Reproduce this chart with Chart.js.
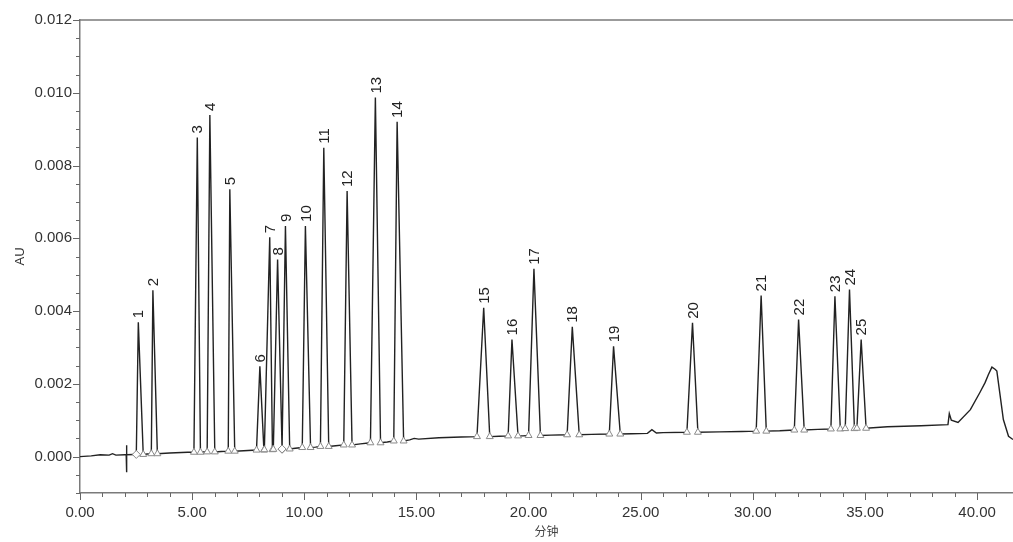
<!DOCTYPE html>
<html lang="zh">
<head>
<meta charset="UTF-8">
<title>色谱图</title>
<script src="https://cdn.jsdelivr.net/npm/chart.js"></script>
<style>
    html, body { margin: 0; padding: 0; background: #fff; }
    canvas { display: block; }
</style>
</head>
<body>
<canvas id="canv" width="1013" height="542"></canvas>
<script>
    // peaks: number, retention time (min), apex height (AU), integration start / end, baseline under peak
    const peakNo = ['1','2','3','4','5','6','7','8','9','10','11','12','13','14','15','16','17','18','19','20','21','22','23','24','25']
    const peakRT = [2.60, 3.25, 5.23, 5.79, 6.68, 8.02, 8.46, 8.81, 9.16, 10.05, 10.87, 11.91, 13.17, 14.14, 18.00, 19.26, 20.24, 21.95, 23.79, 27.31, 30.37, 32.04, 33.66, 34.31, 34.83]
    const peakAU = [0.00369, 0.00457, 0.00877, 0.00939, 0.00735, 0.00248, 0.00603, 0.00542, 0.00634, 0.00634, 0.00849, 0.00730, 0.00987, 0.00920, 0.00409, 0.00322, 0.00516, 0.00357, 0.00303, 0.00368, 0.00443, 0.00377, 0.00441, 0.00459, 0.00322]
    const peakStart = [2.51, 3.18, 5.08, 5.67, 6.61, 7.87, 8.22, 8.62, 9.01, 9.91, 10.72, 11.76, 12.95, 13.99, 17.70, 19.09, 20.00, 21.72, 23.60, 27.06, 30.15, 31.85, 33.48, 34.12, 34.64]
    const peakEnd = [2.82, 3.45, 5.37, 6.01, 6.90, 8.20, 8.58, 9.01, 9.35, 10.28, 11.09, 12.13, 13.40, 14.43, 18.27, 19.53, 20.53, 22.26, 24.09, 27.55, 30.60, 32.29, 33.90, 34.53, 35.05]
    const peakBase = [0.00006, 0.00008, 0.00012, 0.00013, 0.00015, 0.00018, 0.00019, 0.00020, 0.00021, 0.00025, 0.00028, 0.00032, 0.00038, 0.00043, 0.00055, 0.00057, 0.00058, 0.00060, 0.00062, 0.00067, 0.00070, 0.00073, 0.00076, 0.00077, 0.00078]
    const diamondAt = [2.51, 9.01]

    // baseline between peaks, injection spike and the late hump
    const baseTime = [0.00, 0.50, 0.90, 1.30, 1.45, 1.60, 2.00, 2.06, 2.07, 2.08, 2.09, 2.40, 3.00, 4.00, 4.80, 5.50, 6.30, 7.30, 9.60, 10.50, 11.40, 12.50, 13.70, 14.70, 14.90, 15.10, 16.00, 17.00, 18.70, 19.75, 21.00, 22.80, 24.60, 25.30, 25.50, 25.70, 26.00, 28.50, 29.50, 31.20, 32.90, 36.00, 37.50, 38.70, 38.76, 38.85, 39.15, 39.70, 40.13, 40.36, 40.50, 40.66, 40.80, 40.88, 41.03, 41.17, 41.40, 41.60]
    const baseAU = [0.00000, 0.00002, 0.00005, 0.00004, 0.00008, 0.00004, 0.00005, 0.00005, 0.00031, -0.00043, 0.00005, 0.00006, 0.00007, 0.00010, 0.00012, 0.00013, 0.00014, 0.00016, 0.00023, 0.00026, 0.00030, 0.00035, 0.00040, 0.00046, 0.00050, 0.00048, 0.00052, 0.00054, 0.00056, 0.00057, 0.00059, 0.00061, 0.00063, 0.00064, 0.00074, 0.00065, 0.00066, 0.00068, 0.00069, 0.00071, 0.00075, 0.00082, 0.00085, 0.00088, 0.00118, 0.00100, 0.00094, 0.00129, 0.00177, 0.00204, 0.00225, 0.00246, 0.00240, 0.00235, 0.00166, 0.00102, 0.00056, 0.00047]

    const xMin = 0, xMax = 41.6
    const yMin = -0.001, yMax = 0.012

    // build trace
    let trace = []
    for (let i = 0; i < baseTime.length; i++) {
        let inside = peakStart.some((s, k) => baseTime[i] > s && baseTime[i] < peakEnd[k])
        if (!inside) trace.push({x: baseTime[i], y: baseAU[i]})
    }
    for (let i = 0; i < peakRT.length; i++) {
        trace.push({x: peakStart[i], y: peakBase[i]})
        trace.push({x: peakRT[i], y: peakAU[i]})
        trace.push({x: peakEnd[i], y: peakBase[i]})
    }
    trace.sort((a, b) => a.x - b.x)

    let marks = [], markShapes = []
    for (let i = 0; i < peakRT.length; i++) {
        marks.push({x: peakStart[i], y: peakBase[i]})
        markShapes.push(diamondAt.includes(peakStart[i]) ? 'rectRot' : 'triangle')
        marks.push({x: peakEnd[i], y: peakBase[i]})
        markShapes.push(diamondAt.includes(peakEnd[i]) ? 'rectRot' : 'triangle')
    }

    const fontFam = '"Liberation Sans", Arial, sans-serif'

    const isMult = (v, step) => Math.abs(v / step - Math.round(v / step)) < 1e-6

    // axis frame, minor ticks, peak numbers
    const decor = {
        id: 'decor',
        afterDraw(chart) {
            const ctx = chart.ctx
            const area = chart.chartArea
            const xs = chart.scales.x, ys = chart.scales.y
            ctx.save()
            ctx.strokeStyle = '#7a7a7a'
            ctx.lineWidth = 1.5
            ctx.beginPath()
            ctx.moveTo(area.left, area.top)
            ctx.lineTo(area.right, area.top)
            ctx.stroke()

            ctx.lineWidth = 1
            ctx.strokeStyle = '#666'
            ys.ticks.forEach(t => {
                if (!isMult(t.value, 0.0005)) return
                const len = isMult(t.value, 0.002) ? 7 : 4
                const py = Math.round(ys.getPixelForValue(t.value)) + 0.5
                ctx.beginPath()
                ctx.moveTo(area.left - len, py)
                ctx.lineTo(area.left, py)
                ctx.stroke()
            })
            xs.ticks.forEach(t => {
                if (!isMult(t.value, 1)) return
                const len = isMult(t.value, 5) ? 7 : 4
                const px = Math.round(xs.getPixelForValue(t.value)) + 0.5
                ctx.beginPath()
                ctx.moveTo(px, area.bottom)
                ctx.lineTo(px, area.bottom + len)
                ctx.stroke()
            })

            ctx.fillStyle = '#222'
            ctx.font = '15px ' + fontFam
            ctx.textAlign = 'left'
            ctx.textBaseline = 'middle'
            for (let i = 0; i < peakRT.length; i++) {
                const px = xs.getPixelForValue(peakRT[i]) + 1
                const py = ys.getPixelForValue(peakAU[i]) - 4
                ctx.save()
                ctx.translate(px, py)
                ctx.rotate(-Math.PI / 2)
                ctx.fillText(peakNo[i], 0, 0)
                ctx.restore()
            }
            ctx.restore()
        }
    }

    const data = {
        datasets: [{
            type: 'line',
            label: 'trace',
            data: trace,
            borderColor: '#222',
            borderWidth: 1.4,
            pointRadius: 0,
            tension: 0,
            fill: false,
            order: 2
        }, {
            type: 'scatter',
            label: 'marks',
            data: marks,
            pointStyle: markShapes,
            pointRadius: 4,
            pointBorderColor: '#8a8a8a',
            pointBackgroundColor: '#fff',
            pointBorderWidth: 1,
            order: 1
        }]
    }

    const config = {
        type: 'line',
        data: data,
        options: {
            responsive: false,
            animation: false,
            layout: { autoPadding: false, padding: { top: 20, right: 0, left: 0, bottom: 0 } },
            plugins: { legend: { display: false }, tooltip: { enabled: false } },
            scales: {
                x: {
                    type: 'linear',
                    min: xMin,
                    max: xMax,
                    afterFit: s => { s.height = 49; s.paddingRight = 0; s.paddingLeft = 0 },
                    border: { display: true, color: '#7a7a7a', width: 1.5 },
                    grid: { drawOnChartArea: false, drawTicks: true, tickLength: 6, color: 'rgba(0,0,0,0)' },
                    ticks: {
                        stepSize: 1,
                        autoSkip: false,
                        maxRotation: 0,
                        maxTicksLimit: 100,
                        padding: 5,
                        color: '#333',
                        font: { family: fontFam, size: 15 },
                        callback: v => isMult(v, 5) ? v.toFixed(2) : ''
                    },
                    title: {
                        display: true,
                        text: '分钟',
                        color: '#444',
                        font: { family: '"Noto Sans CJK SC", sans-serif', size: 12 },
                        padding: { top: 0, bottom: 3 }
                    }
                },
                y: {
                    type: 'linear',
                    min: yMin,
                    max: yMax,
                    afterFit: s => { s.width = 80 },
                    border: { display: true, color: '#7a7a7a', width: 1.5 },
                    grid: { drawOnChartArea: false, drawTicks: true, tickLength: 7, color: 'rgba(0,0,0,0)' },
                    ticks: {
                        stepSize: 0.0005,
                        autoSkip: false,
                        maxTicksLimit: 100,
                        padding: 1,
                        color: '#333',
                        font: { family: fontFam, size: 15 },
                        callback: v => isMult(v, 0.002) ? v.toFixed(3) : ''
                    },
                    title: {
                        display: true,
                        text: 'AU',
                        color: '#333',
                        font: { family: fontFam, size: 13 },
                        padding: { top: 13, bottom: 0 }
                    }
                }
            }
        },
        plugins: [decor]
    }

    new Chart(document.getElementById('canv').getContext('2d'), config)
</script>
</body>
</html>
